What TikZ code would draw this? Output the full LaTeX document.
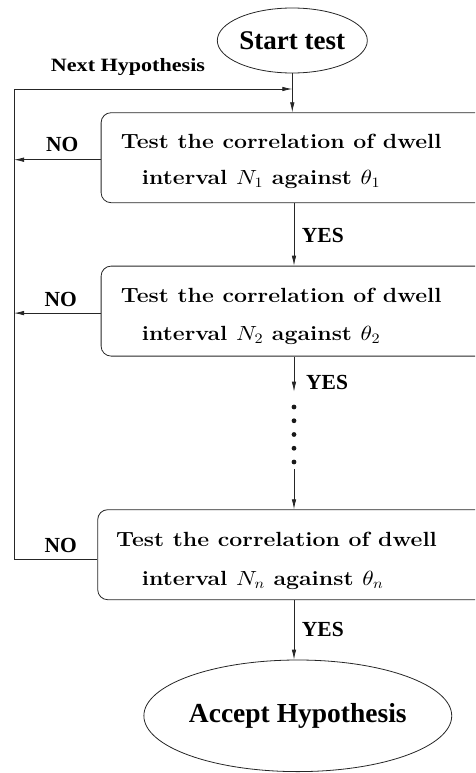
\documentclass[tikz,border=0pt]{standalone}
\usepackage{fontspec}
\newfontfamily\timesbf{Liberation Serif}
\usetikzlibrary{shapes.geometric,arrows.meta}

% scalable math fonts for the large body size
\DeclareFontShape{OML}{cmm}{m}{it}{<->cmmi10}{}
\DeclareFontShape{OMS}{cmsy}{m}{n}{<->cmsy10}{}
\DeclareFontShape{OT1}{cmr}{m}{n}{<->cmr10}{}

\tikzset{
  flow/.style={line width=0.8pt, draw=black!85},
  arr/.style={flow, -{Latex[length=10pt,width=4.5pt]}},
  stepbox/.style={draw=black!85, line width=0.8pt, rounded corners=10pt,
    minimum width=400pt, minimum height=90pt, anchor=north west, inner sep=0pt},
  terminal/.style={draw=black!85, ellipse, line width=0.8pt, inner sep=0pt},
  lbl/.style={font=\timesbf\bfseries\fontsize{21.5}{24}\selectfont,
    inner sep=0pt, anchor=base},
  boxtext/.style={font=\bfseries\fontsize{20.5}{24}\selectfont,
    inner sep=0pt, anchor=base west},
}

\begin{document}
\begin{tikzpicture}[x=1pt,y=-1pt]
\useasboundingbox (0,0) rectangle (475,773);
\clip (0,0) rectangle (475,773);

% terminals
\node[terminal, minimum width=150pt, minimum height=65pt,
  font=\timesbf\bfseries\fontsize{27}{30}\selectfont] (start) at (292.3,40.5) {Start test};
\node[terminal, minimum width=247.6pt, minimum height=111.6pt,
  font=\timesbf\bfseries\fontsize{27.5}{30}\selectfont] (accept) at (297.8,715.8) {Accept Hypothesis};

% test boxes
\node[stepbox] (b1) at (100.7,112.3) {};
\node[stepbox] (b2) at (100.7,265.7) {};
\node[stepbox] (b3) at (97.3,509.3) {};

\node[boxtext] (t1a) at (120.7,148.3) {\scalebox{1.125}[1]{Test the correlation of dwell}};
\node[boxtext] (t1b) at (141.7,184.3) {\scalebox{1.125}[1]{interval $N_1$ against $\theta_1$}};
\node[boxtext] (t2a) at (120.7,302.3) {\scalebox{1.125}[1]{Test the correlation of dwell}};
\node[boxtext] (t2b) at (141.7,340) {\scalebox{1.125}[1]{interval $N_2$ against $\theta_2$}};
\node[boxtext] (t3a) at (116,546) {\scalebox{1.125}[1]{Test the correlation of dwell}};
\node[boxtext] (t3b) at (141.7,585) {\scalebox{1.125}[1]{interval $N_n$ against $\theta_n$}};

% helper coordinates
\coordinate (cx) at (294,0);
\coordinate (lx) at (14,0);
\coordinate (loop) at (14,89);
\coordinate (e2) at (294,391.7);
\coordinate (s3) at (294,469);

% main flow
\draw[arr] (start.south) -- (b1.north -| start.south);
\draw[arr] (b1.south -| cx) -- (b2.north -| cx);
\draw[arr] (b2.south -| cx) -- (e2);
\foreach \yy in {407,420.75,434.5,448.25,462} \fill[black!90] (294,\yy) circle (2.4pt);
\draw[arr] (s3) -- (b3.north -| cx);
\draw[arr] (b3.south -| cx) -- (accept.north -| cx);

% rejection branches and the loop back
\draw[arr] ([yshift=-2pt]b1.west) -- ([yshift=-2pt]b1.west -| lx);
\draw[arr] ([yshift=-2pt]b2.west) -- ([yshift=-2pt]b2.west -| lx);
\draw[arr] ([yshift=-4.7pt]b3.west) -| (loop) -- (start.south |- loop);

% labels
\node[lbl, font=\timesbf\bfseries\fontsize{18.8}{22}\selectfont] (next) at (128,71.7)
  {\scalebox{1.175}[1]{Next Hypothesis}};
\node[lbl] (no1) at (62.3,151.7) {NO};
\node[lbl] (no2) at (60.7,306) {NO};
\node[lbl] (no3) at (60.8,552.7) {NO};
\node[lbl, anchor=base west] (yes1) at (301.7,242.7) {YES};
\node[lbl, anchor=base west] (yes2) at (306,389.3) {YES};
\node[lbl, anchor=base west] (yes3) at (301.7,636) {YES};
\end{tikzpicture}
\end{document}
